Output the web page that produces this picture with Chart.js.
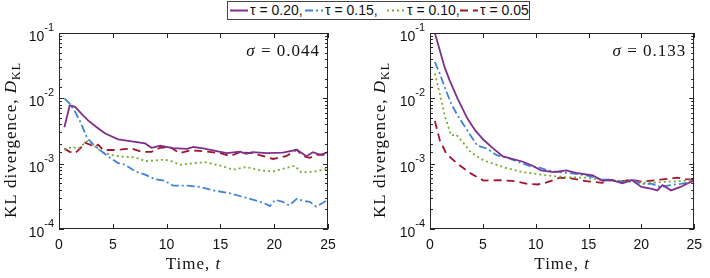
<!DOCTYPE html>
<html><head><meta charset="utf-8">
<script src="https://cdn.jsdelivr.net/npm/chart.js@4"></script>
<style>
html,body{margin:0;padding:0;background:#fff;}
#wrap{position:relative;width:710px;height:278px;overflow:hidden;background:#fff;}
canvas{position:absolute;left:0;top:0;}
#legend{position:absolute;left:227px;top:1px;width:301px;height:17px;border:1px solid #444;background:#fff;font:14px "Liberation Sans",Arial,sans-serif;color:#111;z-index:5;}
.item{position:absolute;top:0;height:17px;line-height:17px;white-space:nowrap;}
.item svg{position:absolute;left:0;top:0;}
.item span{position:absolute;left:20px;top:0;}
</style></head>
<body>
<div id="wrap">
<canvas id="c1" width="710" height="278"></canvas>
<canvas id="c2" width="710" height="278"></canvas>
<div id="legend"></div>
</div>
<script>
// ---------- data ----------
const seriesLabels = ['τ = 0.20,', 'τ = 0.15,', 'τ = 0.10,', 'τ = 0.05'];
const yTickValues = [1e-4, 1e-3, 1e-2, 1e-1];
const yTickBase = '10';
const yTickExp = ['-4', '-3', '-2', '-1'];
const xTickStep = 5;
const sigmaLabels = ['σ = 0.044', 'σ = 0.133'];

// left panel (sigma = 0.044)
const lP_t = [0.5,1,1.5,2.1,2.7,3.5,4.3,5.5,6.75,8,8.6,9.4,10.6,11.9,12.5,13.4,14.3,15.6,16.8,17.4,18,19.3,20.8,22.1,23,23.6,24.3,25];
const lP_v = [3.6e-3,7.8e-3,7.4e-3,5.8e-3,4.6e-3,3.6e-3,2.9e-3,2.35e-3,2.2e-3,2.04e-3,1.75e-3,1.88e-3,1.73e-3,1.69e-3,1.8e-3,1.72e-3,1.6e-3,1.45e-3,1.53e-3,1.42e-3,1.5e-3,1.45e-3,1.48e-3,1.63e-3,1.3e-3,1.5e-3,1.37e-3,1.5e-3];
const lB_t = [0.5,1,1.5,2,2.6,3.2,3.8,4.6,5.5,6.1,7.1,8,8.9,9.8,10.6,11.9,13.1,14.3,15.6,16.8,17.4,18.4,19,19.6,20.1,20.8,21.4,22.1,22.7,23.3,23.9,24.5,25];
const lB_v = [1.0e-2,8.3e-3,6.2e-3,4.3e-3,2.5e-3,1.95e-3,1.62e-3,1.28e-3,1.02e-3,9.7e-4,7.6e-4,6.8e-4,5.8e-4,5.5e-4,4.6e-4,4.6e-4,4.4e-4,3.9e-4,3.6e-4,3.2e-4,3.0e-4,2.7e-4,2.5e-4,2.24e-4,2.8e-4,2.6e-4,2.3e-4,2.9e-4,2.7e-4,2.6e-4,2.2e-4,2.5e-4,2.8e-4];
const lG_t = [0.5,1.2,1.8,2.6,3,3.5,4,4.9,5.8,7.1,8,8.9,9.8,10.6,11.2,12.5,13.7,15,16.2,17.4,18.7,19.9,20.8,21.9,22.5,23.6,24.9];
const lG_v = [1.62e-3,1.8e-3,1.7e-3,2.2e-3,2.05e-3,1.75e-3,1.5e-3,1.35e-3,1.28e-3,1.25e-3,1.09e-3,1.12e-3,1.15e-3,1.08e-3,9.6e-4,1.02e-3,1.05e-3,9.3e-4,8.1e-4,8.9e-4,7.9e-4,7.6e-4,8.3e-4,9.3e-4,7.4e-4,7.5e-4,8.3e-4];
const lR_t = [0.5,1,1.5,1.95,2.4,2.9,3.3,3.65,4.1,4.9,5.8,6.75,7.7,8.6,9.4,10.3,11.2,12.2,13.4,15,15.9,16.8,18,19.9,21.1,22.1,22.7,23.3,24,25];
const lR_v = [1.7e-3,1.52e-3,1.45e-3,1.7e-3,2.1e-3,1.95e-3,1.8e-3,1.95e-3,1.62e-3,1.62e-3,1.65e-3,1.7e-3,1.52e-3,1.52e-3,1.75e-3,1.8e-3,1.45e-3,1.6e-3,1.55e-3,1.45e-3,1.3e-3,1.5e-3,1.45e-3,1.18e-3,1.3e-3,1.63e-3,1.3e-3,1.23e-3,1.37e-3,1.37e-3];

// right panel (sigma = 0.133)
const rP_t = [0.46,0.92,1.38,1.85,2.6,3.54,4.3,5.08,6,6.9,8.8,9.7,10.5,11.7,12.9,13.8,15.4,16.3,17.2,18.2,19.1,20,21,21.5,22,22.8,23.7,24.6,25];
const rP_v = [0.1,5.5e-2,3.0e-2,1.9e-2,1.0e-2,4.9e-3,3.2e-3,2.3e-3,1.7e-3,1.29e-3,1.07e-3,9.3e-4,7.9e-4,7.4e-4,7.9e-4,7.2e-4,6.6e-4,5.5e-4,5.6e-4,5.0e-4,5.6e-4,4.4e-4,4.1e-4,3.9e-4,4.7e-4,3.9e-4,4.4e-4,5.2e-4,5.5e-4];
const rB_t = [0.46,0.92,1.38,2,2.6,3.54,4.46,5.4,6.3,7.5,8.8,9.7,10.2,11.1,12.3,13.8,14.8,16.3,17.2,18.2,19.1,20,21,21.8,22.8,23.7,24.6,25];
const rB_v = [3.6e-2,2.4e-2,1.5e-2,8.3e-3,5.5e-3,3.2e-3,1.9e-3,1.7e-3,1.35e-3,1.2e-3,1.0e-3,8.9e-4,8.9e-4,7.9e-4,7.4e-4,7.0e-4,6.6e-4,5.7e-4,5.7e-4,5.2e-4,5.7e-4,4.9e-4,4.9e-4,4.4e-4,4.7e-4,4.9e-4,5.2e-4,5.5e-4];
const rG_t = [0.46,0.92,1.38,2,2.46,3.08,3.85,5.08,6.9,8.8,9.7,11.1,12.9,14.8,16.6,17.8,19.4,21,22.5,23.7,25];
const rG_v = [2.4e-2,1.18e-2,5.5e-3,2.7e-3,2.8e-3,2.15e-3,1.5e-3,1.12e-3,8.9e-4,7.4e-4,7.1e-4,6.6e-4,6.2e-4,6.1e-4,5.5e-4,5.5e-4,5.2e-4,5.1e-4,5.3e-4,5.4e-4,5.7e-4];
const rR_t = [0.46,0.92,1.54,2.6,3.85,5.08,6.6,8,9.2,10.2,11.1,12.3,13.5,14.8,16.3,16.9,17.8,19.1,20,21,21.8,22.8,23.4,24.2,25];
const rR_v = [4.5e-3,2.3e-3,1.42e-3,1.0e-3,7.1e-4,5.5e-4,5.6e-4,5.4e-4,4.9e-4,4.8e-4,5.2e-4,6.1e-4,5.9e-4,5.4e-4,5.1e-4,5.7e-4,5.3e-4,5.7e-4,5.3e-4,5.5e-4,5.7e-4,5.9e-4,6.1e-4,5.8e-4,5.7e-4];

// ---------- styles ----------
const colors = ['#7E2F8E', '#3F84D8', '#77AC30', '#A2142F'];
const dashes = [[], [8,3,2,3], [2,3], [8,5]];
const lineW = 1.8;

function pts(t, v){ return t.map((x,i)=>({x:x, y:v[i]})); }
function mkSets(list){
  return list.map((s,i)=>({label: seriesLabels[i], data: pts(s[0], s[1]), borderColor: colors[i], borderWidth: lineW, borderDash: dashes[i], pointRadius: 0, fill:false, tension:0}));
}
function isPow10(v){ const l=Math.log10(v); return Math.abs(l-Math.round(l))<1e-6; }

function drawParts(ctx, parts, x, y, align){
  let total = 0;
  parts.forEach(p=>{ ctx.font=p.f; p.w = ctx.measureText(p.s).width; total += p.w; });
  let cx = align==='center' ? x - total/2 : (align==='right' ? x - total : x);
  parts.forEach(p=>{ ctx.font=p.f; ctx.fillText(p.s, cx, y + (p.dy||0)); cx += p.w; });
}

const SERIF = '"Liberation Serif","Times New Roman",serif';
const SANS = '"Liberation Sans",Arial,sans-serif';
const framePlugin = {
  id: 'frame',
  afterDraw(chart, args, o){
    const {ctx, chartArea:a, scales:{x, y}} = chart;
    ctx.save();
    ctx.strokeStyle = '#262626'; ctx.lineWidth = 1;
    ctx.beginPath();
    x.ticks.forEach(t=>{
      const px = Math.round(x.getPixelForValue(t.value))+0.5;
      ctx.moveTo(px, a.bottom); ctx.lineTo(px, a.bottom-5);
      ctx.moveTo(px, a.top); ctx.lineTo(px, a.top+5);
    });
    y.ticks.forEach(t=>{
      const py = Math.round(y.getPixelForValue(t.value))+0.5;
      const L = isPow10(t.value) ? 5 : 3;
      ctx.moveTo(a.left, py); ctx.lineTo(a.left+L, py);
      ctx.moveTo(a.right, py); ctx.lineTo(a.right-L, py);
    });
    ctx.stroke();
    ctx.strokeRect(Math.round(a.left)+0.5, Math.round(a.top)+0.5, Math.round(a.right-a.left)-1, Math.round(a.bottom-a.top)-1);

    ctx.fillStyle = '#111';
    ctx.textBaseline = 'alphabetic';
    // y tick labels: 10 with superscript exponent, at the scale's positions
    yTickValues.forEach((v,i)=>{
      const py = y.getPixelForValue(v);
      drawParts(ctx, [{s:yTickBase, f:'14px '+SANS}, {s:yTickExp[i], f:'11px '+SANS, dy:-10}], a.left-5, py+8, 'right');
    });

    ctx.letterSpacing = '1px';
    // x title
    drawParts(ctx, [{s:'Time, ', f:'17px '+SERIF}, {s:'t', f:'italic 17px '+SERIF}], (a.left+a.right)/2, 269, 'center');
    // sigma annotation
    const sp = o.sigma.split(' ');
    drawParts(ctx, [{s:sp[0], f:'italic 17px '+SERIF}, {s:' '+sp.slice(1).join(' '), f:'17px '+SERIF}], a.right-8, 56, 'right');
    // y title
    ctx.translate(o.yTitleX, 140);
    ctx.rotate(-Math.PI/2);
    drawParts(ctx, [{s:'KL divergence, ', f:'17px '+SERIF}, {s:'D', f:'italic 17px '+SERIF}, {s:'KL', f:'12px '+SERIF, dy:4}], 0, 0, 'center');
    ctx.restore();
  }
};

function makeChart(id, sets, padL, yW, padR, sigma, yTitleX){
  return new Chart(document.getElementById(id), {
    type: 'line',
    data: { datasets: mkSets(sets) },
    plugins: [framePlugin],
    options: {
      responsive: false, animation: false, devicePixelRatio: 1,
      layout: { padding: { left: padL, right: padR, top: 33, bottom: 0 } },
      plugins: { legend: {display:false}, tooltip: {enabled:false}, frame: { sigma: sigma, yTitleX: yTitleX } },
      scales: {
        x: {
          type: 'linear', min: 0, max: 25,
          ticks: { stepSize: xTickStep, color: '#111', padding: 8, font: { family: SANS, size: 14 } },
          grid: { display: false, drawTicks: false }, border: { display: false },
          afterFit(s){ s.height = 49; }
        },
        y: {
          type: 'logarithmic', min: 1e-4, max: 1e-1,
          ticks: { display: false, autoSkip: false },
          grid: { display: false, drawTicks: false }, border: { display: false },
          afterFit(s){ s.width = yW; }
        }
      }
    }
  });
}

makeChart('c1', [[lP_t,lP_v],[lB_t,lB_v],[lG_t,lG_v],[lR_t,lR_v]], 0, 59, 382, sigmaLabels[0], 16);
makeChart('c2', [[rP_t,rP_v],[rB_t,rB_v],[rG_t,rG_v],[rR_t,rR_v]], 355, 75, 9, sigmaLabels[1], 385);

// legend (HTML)
const legendX = [2, 77, 159, 232];
const leg = document.getElementById('legend');
seriesLabels.forEach((lab,i)=>{
  const d = document.createElement('div'); d.className='item'; d.style.left = legendX[i]+'px';
  const dash = dashes[i].length ? dashes[i].join(',') : 'none';
  d.innerHTML = '<svg width="18" height="17"><line x1="0" y1="8.5" x2="18" y2="8.5" stroke="'+colors[i]+'" stroke-width="2" stroke-dasharray="'+dash+'"/></svg><span>'+lab+'</span>';
  leg.appendChild(d);
});
</script>
</body></html>
